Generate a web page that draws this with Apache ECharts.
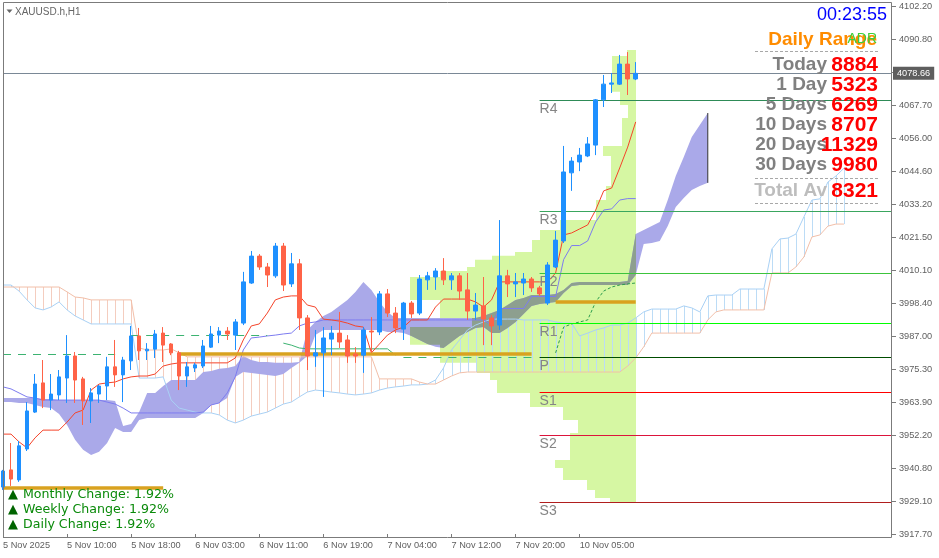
<!DOCTYPE html>
<html><head><meta charset="utf-8">
<script src="https://cdn.jsdelivr.net/npm/echarts@6/dist/echarts.min.js"></script>
<style>html,body{margin:0;padding:0;background:#fff}#c{width:939px;height:558px}</style>
</head><body><div id="c"></div>
<script>
// ---------- axes ----------
const xTickIndex = [0, 8, 16, 24, 32, 40, 48, 56, 64, 72];
const xTickText = ['5 Nov 2025', '5 Nov 10:00', '5 Nov 18:00', '6 Nov 03:00', '6 Nov 11:00', '6 Nov 19:00', '7 Nov 04:00', '7 Nov 12:00', '7 Nov 20:00', '10 Nov 05:00'];
const yTickText = ['3917.70', '3929.10', '3940.80', '3952.20', '3963.90', '3975.30', '3987.00', '3998.40', '4010.10', '4021.50', '4033.20', '4044.60', '4056.00', '4067.70', '4079.10', '4090.80', '4102.20'];
const priceMin = 3917.7, priceMax = 4102.2;
const slotCount = 112;
const lastPrice = 4078.66;

// ---------- candles (H1) ----------
const candleOpen = [3934.1,3940.1,3936.6,3947.4,3960.3,3970.5,3964.5,3966.3,3972.2,3979.9, 3971.9,3964.2,3966.6,3969.4,3976.1,3973.3,3978.2,3986.9,3981.7,3982.3, 3987.9,3984.1,3981.0,3972.9,3975.7,3976.4,3983.0,3987.2,3988.6,3987.2, 3991.4,4005.4,4014.8,4011.0,4007.9,4018.3,4005.1,4012.1,3993.2,3979.9, 3981.0,3985.8,3987.9,3985.5,3980.6,3980.2,3988.6,3988.3,4001.6,3994.9, 3989.3,3998.4,3994.9,4006.5,4007.5,4009.6,4006.5,4007.9,4003.0,3995.6, 3997.4,3993.2,3990.7,4007.9,4005.1,4005.4,4006.8,4003.7,3998.4,4011.0, 4020.1,4043.9,4047.7,4049.8,4053.6,4069.4,4074.9,4074.9,4081.9,4076.7];
const candleClose = [3939.7,3936.9,3948.5,3960.7,3970.1,3964.5,3966.6,3972.6,3979.9,3971.5, 3964.2,3967.0,3969.4,3976.1,3973.3,3978.5,3986.9,3981.7,3982.3,3987.6, 3983.7,3981.0,3972.9,3976.1,3976.8,3983.4,3987.6,3988.6,3987.6,3991.8, 4005.8,4014.8,4011.0,4008.2,4018.3,4004.7,4012.1,3993.2,3979.9,3981.0, 3986.2,3987.9,3984.8,3979.9,3979.9,3989.0,3988.3,4001.6,3994.9,3989.7, 3998.4,3994.6,4006.8,4007.9,4009.6,4006.5,4007.9,4002.6,3995.6,3997.7, 3992.8,3990.4,4007.9,4005.1,4005.8,4006.8,4003.7,4001.6,4011.7,4020.4, 4044.2,4048.0,4050.1,4054.0,4069.4,4074.9,4075.3,4081.9,4076.7,4078.66];
const candleHigh = [3940.1,3949.5,3950.2,3963.8,3973.6,3978.5,3973.6,3975.0,3987.2,3981.3, 3972.6,3968.7,3969.8,3979.6,3985.5,3979.6,3990.4,3989.7,3984.4,3989.0, 3990.0,3984.4,3981.7,3977.8,3977.5,3985.5,3990.4,3990.0,3990.0,3992.8, 4009.3,4016.6,4015.5,4012.4,4019.4,4019.4,4015.9,4013.8,3994.2,3989.0, 3990.0,3990.4,3995.3,3987.2,3983.0,3990.0,3993.5,4002.6,4003.3,3997.0, 3998.8,3999.1,4008.2,4009.3,4010.6,4014.1,4008.9,4008.9,4008.9,4001.9, 4007.5,3994.2,4027.4,4010.0,4008.9,4008.9,4007.5,4004.4,4012.7,4023.6, 4053.3,4049.4,4052.6,4056.4,4069.7,4078.1,4078.8,4085.1,4086.1,4082.6];
const candleLow = [3933.1,3934.5,3935.9,3946.7,3960.0,3961.7,3961.0,3964.5,3963.5,3963.5, 3955.8,3956.5,3963.5,3964.5,3969.1,3963.8,3975.0,3978.5,3978.5,3979.2, 3977.8,3980.2,3968.0,3969.1,3974.3,3975.7,3982.7,3984.4,3985.5,3982.0, 3990.7,4005.1,4010.0,4004.0,4007.2,4002.6,4004.0,3989.0,3975.0,3976.1, 3965.6,3980.2,3982.7,3977.5,3977.5,3974.0,3981.0,3987.2,3993.5,3987.9, 3985.5,3993.2,3994.2,4003.0,4003.0,4004.7,4003.0,3999.5,3992.5,3992.5, 3983.7,3983.7,3989.0,4000.5,4000.5,4001.2,4002.3,4000.9,3997.7,4010.6, 4019.4,4037.6,4044.5,4049.4,4050.1,4066.9,4071.8,4074.6,4071.1,4076.3];

// ---------- Ichimoku ----------
const tenkan = [3952.6,3952.6,3949.9,3947.8,3951.3,3954.0,3954.0,3954.0,3956.8,3960.0, 3961.0,3968.0,3970.1,3970.5,3970.8,3971.9,3972.6,3972.9,3972.9,3973.6, 3976.4,3977.1,3977.5,3977.5,3977.5,3977.5,3977.5,3977.5,3977.5,3979.2, 3985.5,3990.4,3991.1,3994.9,3999.5,4000.5,4000.9,4000.9,3997.7,3997.0, 3992.8,3992.5,3992.1,3991.4,3990.4,3990.0,3981.0,3984.1,3987.2,3989.0, 3990.0,3992.5,3992.5,3992.5,3997.0,3999.8,3999.8,3999.8,3999.8,3998.8, 3997.0,3999.5,4005.8,4005.8,4005.8,4005.8,4005.8,4005.8,4005.8,4008.9, 4022.2,4022.9,4024.3,4025.7,4030.9,4037.6,4038.6,4045.6,4052.9,4061.7];
const kijun = [3969.1,3968.4,3967.0,3965.6,3965.2,3964.5,3964.5,3964.5,3964.5,3964.5, 3964.5,3964.5,3964.5,3963.8,3963.1,3961.7,3960.0,3960.0,3960.0,3960.0, 3960.0,3960.0,3960.0,3960.0,3960.0,3960.3,3962.8,3963.5,3967.0,3972.6, 3982.0,3986.2,3986.5,3986.9,3987.2,3987.6,3987.9,3990.4,3991.4,3991.8, 3992.5,3992.5,3992.5,3992.5,3992.5,3992.5,3992.5,3992.5,3992.5,3992.5, 3992.5,3992.5,3992.5,3992.5,3992.5,3992.5,3992.5,3992.5,3992.5,3992.5, 3992.5,3990.7,3996.5,3996.5,3996.5,3996.5,4000.7,4000.7,4000.7,4000.7, 4013.6,4018.5,4018.5,4020.1,4026.7,4030.9,4031.3,4034.4,4034.9,4034.9];
const senkouA = [4004.7,4004.7,4002.6,3999.5,3996.7,3996.0,3997.0,3998.8,3996.0,3993.9, 3992.5,3991.1,3991.1,3991.1,3991.1,3991.1,3991.1,3972.2,3972.2,3972.2, 3972.6,3964.5,3961.7,3961.0,3960.3,3960.0,3960.0,3959.3,3957.5,3956.5, 3957.5,3958.9,3959.6,3960.3,3961.7,3963.1,3963.8,3965.6,3967.3,3968.0, 3967.7,3967.3,3967.0,3966.6,3966.3,3966.6,3967.0,3968.0,3968.7,3969.1, 3969.4,3969.8,3969.8,3970.1,3971.5,3975.7,3982.0,3985.5,3989.0,3990.7, 3991.8,3992.8,3992.8,3992.8,3992.8,3992.5,3992.5,3992.5,3992.5,3991.8, 3991.4,3991.4,3986.9,3987.9,3989.0,3989.7,3990.7,3990.7,3991.4,3993.2, 3995.3,3996.3,3996.3,3996.3,3996.3,3997.4,3996.7,3995.3,4000.9,4001.2, 4001.2,4001.2,4003.3,4003.3,4003.3,4003.3,4017.3,4020.8,4021.1,4022.5, 4028.5,4034.4,4034.8,4040.7,4042.8,4045.5];
const senkouB = [4004.0,4004.0,4004.0,4004.0,4004.0,4004.0,4004.0,4004.0,4002.3,4000.5, 4000.2,3999.5,3999.5,3999.5,3999.5,3999.5,3999.5,3982.7,3982.0,3982.0, 3982.0,3982.4,3981.0,3979.6,3979.6,3979.6,3979.6,3979.6,3979.6,3979.6, 3979.6,3979.6,3979.6,3979.6,3979.6,3979.6,3979.6,3979.6,3979.6,3979.6, 3979.6,3979.6,3979.6,3979.6,3979.6,3979.6,3979.6,3971.9,3971.9,3971.9, 3971.9,3971.9,3970.8,3970.1,3970.1,3971.5,3972.9,3974.0,3974.3,3974.3, 3974.3,3974.3,3974.3,3974.3,3974.3,3974.3,3974.3,3974.3,3974.3,3974.3, 3974.3,3974.3,3974.3,3974.3,3974.3,3974.3,3974.3,3974.3,3976.4,3979.2, 3983.1,3987.9,3987.9,3987.9,3987.9,3987.9,3987.9,3987.9,3992.5,3995.3, 3996.0,3996.0,3996.0,3996.0,3996.0,3996.0,4008.9,4008.9,4008.9,4011.0, 4014.5,4021.5,4022.2,4025.3,4026.0,4026.0];

// ---------- second (filled) cloud ----------
const cloudUpper = [3965.2,3965.2,3965.2,3965.2,3965.2,3964.9,3964.9,3964.5,3964.5,3964.5, 3964.5,3964.5,3964.5,3964.5,3964.2,3955.4,3956.1,3960.3,3967.0,3967.0, 3969.4,3971.5,3971.5,3971.5,3971.5,3974.3,3974.7,3975.4,3975.7,3976.4, 3979.9,3978.5,3977.8,3977.8,3977.5,3977.5,3977.5,3977.8,3989.0,3991.8, 3993.9,3995.3,3997.4,3999.5,4002.3,4005.8,4003.0,3998.8,3995.3,3993.2, 3993.2,3993.2,3993.2,3993.2,3993.2,3993.2,3993.2,3993.2,3993.2,3993.2, 3993.9,3994.9,3996.0,3997.7,3999.5,4000.2,4001.2,4001.2,4001.2,4001.6, 4003.0,4005.4,4005.8,4005.8,4005.8,4005.8,4005.8,4005.8,4006.1,4022.5, 4023.9,4025.3,4026.7,4034.4,4042.8,4049.4,4056.4,4060.6,4064.8];
const cloudLower = [3963.8,3963.8,3963.5,3963.5,3962.8,3962.1,3961.7,3959.6,3955.8,3950.6, 3947.1,3945.3,3946.4,3949.5,3954.7,3953.3,3953.3,3957.5,3958.2,3958.2, 3958.2,3958.2,3958.2,3958.2,3958.2,3960.0,3962.8,3963.5,3965.2,3972.6, 3974.3,3974.0,3973.6,3973.3,3972.9,3973.6,3975.7,3977.5,3979.9,3987.2, 3989.0,3989.0,3989.0,3989.0,3989.0,3989.0,3989.0,3989.0,3988.3,3988.3, 3987.9,3986.9,3985.5,3984.1,3983.1,3982.7,3984.8,3986.9,3988.3,3989.7, 3990.0,3987.9,3987.9,3989.7,3991.8,3994.6,3997.4,3998.1,3998.4,3998.8, 4001.9,4004.4,4004.7,4004.7,4004.7,4004.7,4004.7,4004.7,4004.7,4008.2, 4019.0,4019.4,4020.1,4025.3,4032.0,4035.1,4037.9,4039.3,4040.4];

// ---------- volume profile ----------
const vpEdges = [4086.8,4084.7,4072.2,4067.6,4063.1,4053.3,4049.8,4039.3,4034.4,4027.4,4023.9,4020.4,4016.2,4014.9,4013.5,4011.0,4009.6,4007.5,3999.5,3993.2,3990.0,3983.8,3977.5,3974.0,3971.5,3967.0,3962.1,3957.5,3953.0,3943.6,3940.8,3936.6,3933.1,3930.3,3928.5];
const vpVolume = [9,24,16,8,14,33,25,30,40,76,96,104,121,144,161,169,196,226,196,164,226,196,159,146,139,106,73,58,66,81,73,49,41,26];

// ---------- levels ----------
const pivotNames = ['R4','R3','R2','R1','P','S1','S2','S3'];
const pivotValues = [4069.4, 4030.6, 4008.9, 3991.4, 3979.6, 3967.3, 3952.3, 3928.9];
const pivotColors = ['#2e8b57','#3aa65e','#3cc43c','#00ff00','#004d00','#ff0000','#dc143c','#b01e1e'];
const pivotStart = 67;
const goldValues = [3980.6, 3998.8, 3934.0];
const goldStart = [22, 69, 0];
const goldEnd = [66, 79, 20];
const dashValues = [3980.6, 3987.2, 3979.6];
const dashStart = [0, 16, 50];
const dashEnd = [14, 33, 66];
const greenLineStart = 35;
const greenLine = [3984.4,3983.7,3982.7,3982.4,3982.4,3982.4,3982.4,3982.4,3982.4,3982.4,3982.4,3982.4,3982.4,3982.4,3980.2];
const greenRiseStart = 69;
const greenRise = [3981.0,3990.0,3991.1,3991.8,3992.5,3998.8,4002.6,4004.0,4004.7,4005.1,4005.4];

// ---------- panel texts ----------
const timerText = '00:23:55';
const rangeLabels = ['Today','1 Day','5 Days','10 Days','20 Days','30 Days'];
const rangeValues = [8884, 5323, 6269, 8707, 11329, 9980];
const totalAvgLabel = 'Total Av';
const totalAvgValue = 8321;
const changeLabels = ['Monthly Change','Weekly Change','Daily Change'];
const changeValues = [1.92, 1.92, 1.92];

const AX = '"Liberation Sans", Arial, sans-serif';
const cats = Array.from({length: slotCount}, (_, i) => String(i));

const markData = [];
markData.push({yAxis: lastPrice, lineStyle:{color:'#7a8896', width:1, type:'solid'},
  label:{show:true, position:'end', formatter: lastPrice.toFixed(2), backgroundColor:'#5e5e5e', color:'#ffffff',
    padding:[2,4,2,4], fontSize:9.2, fontFamily:AX, distance:1}});
pivotNames.forEach((n, k) => {
  markData.push([{coord:[pivotStart, pivotValues[k]], lineStyle:{color:pivotColors[k], width:1, type:'solid'},
    label:{show:true, position:'insideStartBottom', formatter:n, color:'#858585', fontSize:14, fontFamily:AX, distance:[0,2]}},
    {coord:[slotCount-1, pivotValues[k]]}]);
});
goldValues.forEach((v, k) => {
  markData.push([{coord:[goldStart[k], v], lineStyle:{color:'#d9a21f', width:3.5, type:'solid'}, label:{show:false}},
    {coord:[goldEnd[k], v]}]);
});
dashValues.forEach((v, k) => {
  markData.push([{coord:[dashStart[k], v], lineStyle:{color:'#3cb371', width:1, type:[8,7]}, label:{show:false}},
    {coord:[dashEnd[k], v]}]);
});

const graphics = [
  {type:'rect', shape:{x:3.5, y:2.5, width:888, height:535}, style:{fill:'none', stroke:'#7b7b7b', lineWidth:1}, silent:true, z:100},
  {type:'polygon', shape:{points:[[6.5,9.5],[12.5,9.5],[9.5,13]]}, style:{fill:'#666666'}, silent:true, z:100},
  {type:'text', x:15, y:12, style:{text:'XAUUSD.h,H1', fill:'#666666', font:'10px ' + AX, verticalAlign:'middle'}, silent:true, z:100},
  {type:'text', x:887, y:15, style:{text:timerText, fill:'#0000ff', font:'18px ' + AX, align:'right', verticalAlign:'middle'}, silent:true, z:100},
  {type:'text', x:877, y:40, style:{text:'Daily Range', fill:'#ff8c00', font:'bold 19px ' + AX, align:'right', verticalAlign:'middle'}, silent:true, z:100},
  {type:'text', x:877, y:39, style:{text:'ADR', fill:'#3ccf3c', font:'14px ' + AX, align:'right', verticalAlign:'middle'}, silent:true, z:101},
  {type:'line', shape:{x1:755, y1:51.5, x2:878, y2:51.5}, style:{stroke:'#a8a8a8', lineDash:[3,2], lineWidth:1}, silent:true, z:100},
  {type:'line', shape:{x1:755, y1:178.5, x2:878, y2:178.5}, style:{stroke:'#a8a8a8', lineDash:[3,2], lineWidth:1}, silent:true, z:100},
  {type:'line', shape:{x1:755, y1:203.5, x2:878, y2:203.5}, style:{stroke:'#a8a8a8', lineDash:[3,2], lineWidth:1}, silent:true, z:100}
];
rangeLabels.forEach((l, k) => {
  graphics.push({type:'text', x:827, y:65 + 20*k, style:{text:l, fill:'#808080', font:'bold 19px ' + AX, align:'right', verticalAlign:'middle'}, silent:true, z:100});
});
rangeValues.forEach((v, k) => {
  graphics.push({type:'text', x:878, y:65 + 20*k, style:{text:String(v), fill:'#ff0000', font:'bold 21px ' + AX, align:'right', verticalAlign:'middle'}, silent:true, z:101});
});
graphics.push({type:'text', x:827, y:191, style:{text:totalAvgLabel, fill:'#bdbdbd', font:'bold 19px ' + AX, align:'right', verticalAlign:'middle'}, silent:true, z:100});
graphics.push({type:'text', x:878, y:191, style:{text:String(totalAvgValue), fill:'#ff0000', font:'bold 21px ' + AX, align:'right', verticalAlign:'middle'}, silent:true, z:101});
changeLabels.forEach((l, k) => {
  graphics.push({type:'text', x:8, y:495 + 15*k, style:{text:'\u25B2', fill:'#006400', font:'13px "DejaVu Sans"', verticalAlign:'middle'}, silent:true, z:100});
  graphics.push({type:'text', x:23, y:495 + 15*k, style:{text:l + ': ' + changeValues[k].toFixed(2) + '%', fill:'#0a8a0a', font:'12.6px "DejaVu Sans"', verticalAlign:'middle'}, silent:true, z:100});
});

const series = [
  { name:'Volume profile', type:'custom', xAxisIndex:1, yAxisIndex:2, z:1, silent:true, clip:false,
    data:[[0, vpEdges[0]]],
    renderItem:(params, api) => {
      const pts = [api.coord([0, vpEdges[0]])];
      for (let k = 0; k < vpVolume.length; k++) {
        pts.push(api.coord([vpVolume[k], vpEdges[k]]));
        pts.push(api.coord([vpVolume[k], vpEdges[k+1]]));
      }
      pts.push(api.coord([0, vpEdges[vpEdges.length-1]]));
      return {type:'polygon', shape:{points:pts}, style:{fill:'#d6f7a3'}};
    }},
  { name:'Kumo hatch', type:'custom', z:2, silent:true,
    data: senkouA.map((a, i) => [i, a, senkouB[i]]),
    encode:{x:0, y:[1,2]},
    renderItem:(params, api) => {
      const i = api.value(0), a = api.value(1), b = api.value(2);
      const p1 = api.coord([i, a]), p2 = api.coord([i, b]);
      const x = Math.round(p1[0]) + 0.5;
      return {type:'line', shape:{x1:x, y1:p1[1], x2:x, y2:p2[1]},
        style:{stroke: a >= b ? '#bcdcf6' : '#f4cdbf', lineWidth:1}};
    }},
  { name:'Cloud 2', type:'custom', z:3, silent:true, clip:false,
    data:[[0, cloudUpper[0]]],
    renderItem:(params, api) => {
      const pts = [];
      for (let i = 0; i < cloudUpper.length; i++) pts.push(api.coord([i, cloudUpper[i]]));
      for (let i = cloudLower.length - 1; i >= 0; i--) pts.push(api.coord([i, cloudLower[i]]));
      const n = cloudUpper.length - 1;
      const e1 = api.coord([n, cloudUpper[n]]), e2 = api.coord([n, cloudLower[n]]);
      return {type:'group', children:[
        {type:'polygon', shape:{points:pts}, style:{fill:'#aaa9e9'}},
        {type:'line', shape:{x1:e1[0], y1:e1[1], x2:e2[0], y2:e2[1]}, style:{stroke:'#333333', lineWidth:1}}
      ]};
    }},
  { name:'Senkou A', type:'line', data:senkouA, symbol:'none', z:3, silent:true,
    lineStyle:{color:'#a9d1f5', width:1} },
  { name:'Senkou B', type:'line', data:senkouB, symbol:'none', z:3, silent:true,
    lineStyle:{color:'#f2bfa9', width:1} },
  { name:'Green line', type:'line', data: greenLine.map((v, k) => [greenLineStart + k, v]), symbol:'none', z:4, silent:true,
    lineStyle:{color:'#3cb371', width:1} },
  { name:'Green rise', type:'line', data: greenRise.map((v, k) => [greenRiseStart + k, v]), symbol:'none', z:4, silent:true,
    lineStyle:{color:'#2e9e4e', width:1, type:[3,2]} },
  { name:'Kijun', type:'line', data:kijun, symbol:'none', z:4, silent:true,
    lineStyle:{color:'#7d7cf0', width:1} },
  { name:'Tenkan', type:'line', data:tenkan, symbol:'none', z:4, silent:true,
    lineStyle:{color:'#f5442a', width:1},
    markLine:{silent:true, symbol:['none','none'], animation:false, precision:2, data:markData} },
  { name:'XAUUSD', type:'candlestick', z:5, silent:true, barWidth:4,
    data: candleOpen.map((o, i) => [o, candleClose[i], candleLow[i], candleHigh[i]]),
    itemStyle:{color:'#1e90ff', color0:'#ff6347', borderColor:'#1e90ff', borderColor0:'#ff6347', borderWidth:1} }
];

const option = {
  animation: false,
  backgroundColor: '#ffffff',
  grid: [
    {left:3, right:47, top:6, bottom:24},
    {left:3, right:303, top:6, bottom:24}
  ],
  xAxis: [
    {type:'category', gridIndex:0, data:cats, boundaryGap:false, offset:4,
      axisLine:{show:false},
      axisTick:{show:true, interval:(i) => xTickIndex.includes(i), length:4, lineStyle:{color:'#7b7b7b'}},
      axisLabel:{show:true, interval:(i) => xTickIndex.includes(i), align:'left', margin:3,
        formatter:(v) => { const k = xTickIndex.indexOf(Number(v)); return k >= 0 ? xTickText[k] : ''; },
        color:'#606060', fontSize:9.2, fontFamily:AX},
      splitLine:{show:false}},
    {type:'value', gridIndex:1, min:0, max:633, inverse:true, show:false}
  ],
  yAxis: [
    {type:'value', gridIndex:0, min:priceMin, max:priceMax, show:false},
    {type:'value', gridIndex:0, min:0, max:16, interval:1, position:'right',
      axisLine:{show:false}, axisTick:{show:true, length:4, lineStyle:{color:'#7b7b7b'}},
      axisLabel:{showMinLabel:true, showMaxLabel:true, margin:7, formatter:(v) => yTickText[v] || '', color:'#606060', fontSize:9.2, fontFamily:AX},
      splitLine:{show:false}},
    {type:'value', gridIndex:1, min:priceMin, max:priceMax, show:false}
  ],
  graphic: graphics,
  series: series
};
const chart = echarts.init(document.getElementById('c'), null, {renderer:'canvas', devicePixelRatio:1});
chart.setOption(option);

// Where the second cloud overlaps the volume profile MT4 shows a grey-green mix:
// convert both shapes with the chart's own scales, then draw the profile clipped by the cloud.
const cloudPx = [];
for (let i = 0; i < cloudUpper.length; i++) cloudPx.push(chart.convertToPixel({xAxisIndex:0, yAxisIndex:0}, [i, cloudUpper[i]]));
for (let i = cloudLower.length - 1; i >= 0; i--) cloudPx.push(chart.convertToPixel({xAxisIndex:0, yAxisIndex:0}, [i, cloudLower[i]]));
const vpPx = [chart.convertToPixel({xAxisIndex:1, yAxisIndex:2}, [0, vpEdges[0]])];
for (let k = 0; k < vpVolume.length; k++) {
  vpPx.push(chart.convertToPixel({xAxisIndex:1, yAxisIndex:2}, [vpVolume[k], vpEdges[k]]));
  vpPx.push(chart.convertToPixel({xAxisIndex:1, yAxisIndex:2}, [vpVolume[k], vpEdges[k+1]]));
}
vpPx.push(chart.convertToPixel({xAxisIndex:1, yAxisIndex:2}, [0, vpEdges[vpEdges.length-1]]));
series.splice(3, 0, { name:'Overlap', type:'custom', z:3, silent:true, clip:false,
  data:[[0, cloudUpper[0]]],
  renderItem:() => ({type:'polygon', shape:{points:vpPx}, style:{fill:'#8d9f8f'},
    clipPath:{type:'polygon', shape:{points:cloudPx}}})
});
chart.setOption({series: series}, {replaceMerge:['series']});
</script>
</body></html>
